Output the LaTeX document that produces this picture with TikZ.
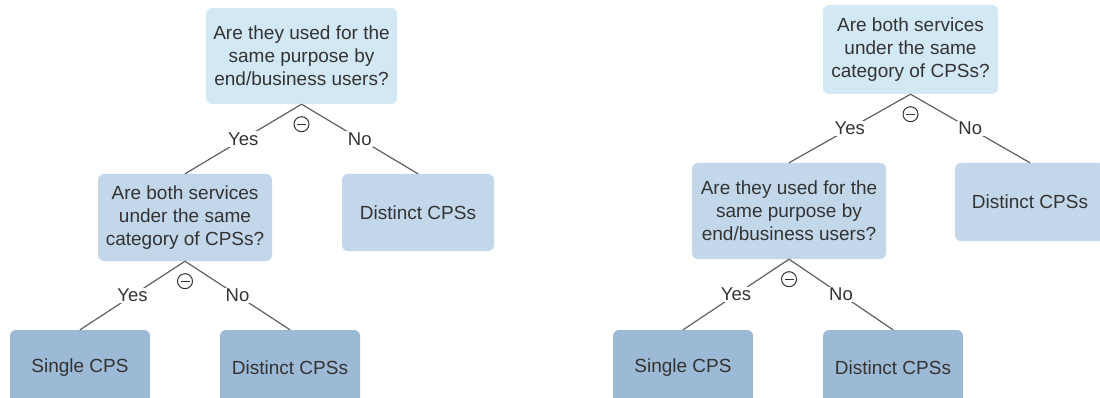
\documentclass[tikz,border=0pt]{standalone}
\usepackage{fontspec}
\setmainfont{Liberation Sans}
\definecolor{rootc}{HTML}{D3E8F5}
\definecolor{midc}{HTML}{C3D7EA}
\definecolor{leafc}{HTML}{9CB9D5}
\definecolor{txtc}{HTML}{333333}
\definecolor{linec}{HTML}{606060}
\begin{document}
\begin{tikzpicture}[x=1pt,y=-1pt,
  box/.style={rounded corners=6pt, draw=none, text=txtc, align=center,
    font=\fontsize{19}{23}\selectfont, inner sep=0pt},
  rootbox/.style={box, fill=rootc},
  midbox/.style={box, fill=midc},
  leafbox/.style={box, fill=leafc},
  conn/.style={draw=linec, line width=1.2pt},
  lbl/.style={fill=white, text=txtc, font=\fontsize{18.5}{20}\selectfont, inner sep=1.5pt},
  minus/.style={circle, draw=txtc, line width=1pt, minimum size=15pt, inner sep=0pt, fill=white}
]
\useasboundingbox (0,0) rectangle (1100,398);
\clip (0,0) rectangle (1100,398);
\fill[white] (0,0) rectangle (1100,398);

% Left tree
\node[rootbox, minimum width=191pt, minimum height=96pt] (r1) at (301.5,56) {Are they used for the\\same purpose by\\end/business users?};
\node[midbox, minimum width=174pt, minimum height=87pt] (a1) at (185,217.5) {Are both services\\under the same\\category of CPSs?};
\node[midbox, minimum width=152pt, minimum height=77pt] (d1) at (418,212.5) {Distinct CPSs};
\node[leafbox, minimum width=140pt, minimum height=76pt] (s1) at (80,368) {Single CPS};
\node[leafbox, minimum width=140pt, minimum height=76pt] (e1) at (290,368) {Distinct CPSs};

% Right tree
\node[rootbox, minimum width=175pt, minimum height=89pt] (r2) at (910.5,49.5) {Are both services\\under the same\\category of CPSs?};
\node[midbox, minimum width=194pt, minimum height=96pt] (a2) at (789,211) {Are they used for the\\same purpose by\\end/business users?};
\node[midbox, minimum width=150pt, minimum height=78pt] (d2) at (1030,202) {Distinct CPSs};
\node[leafbox, minimum width=140pt, minimum height=76pt] (s2) at (683,368) {Single CPS};
\node[leafbox, minimum width=140pt, minimum height=76pt] (e2) at (893,368) {Distinct CPSs};

% connectors
\draw[conn] (r1.south) -- node[lbl]{Yes} (a1.north);
\draw[conn] (r1.south) -- node[lbl]{No} (d1.north);
\draw[conn] (a1.south) -- node[lbl]{Yes} (s1.north);
\draw[conn] (a1.south) -- node[lbl]{No} (e1.north);
\draw[conn] (r2.south) -- node[lbl]{Yes} (a2.north);
\draw[conn] (r2.south) -- node[lbl]{No} (d2.north);
\draw[conn] (a2.south) -- node[lbl]{Yes} (s2.north);
\draw[conn] (a2.south) -- node[lbl]{No} (e2.north);

% collapse markers
\foreach \p/\n in {r1/m1, a1/m2, r2/m3, a2/m4}{
  \node[minus] (\n) at ([yshift=-20pt]\p.south) {};
  \draw[txtc, line width=1pt] ([xshift=-4.5pt]\n.center) -- ([xshift=4.5pt]\n.center);
}
\end{tikzpicture}
\end{document}
